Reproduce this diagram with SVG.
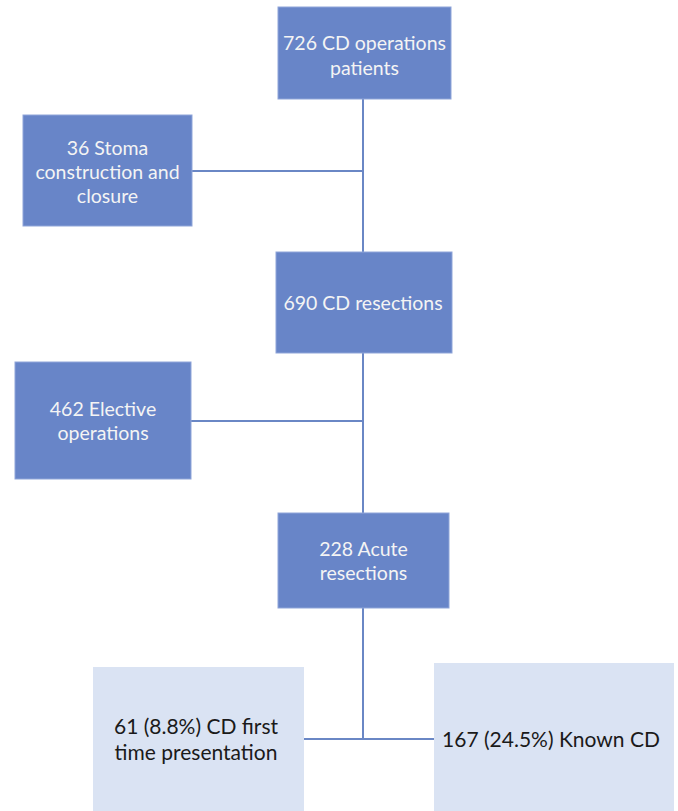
<svg xmlns="http://www.w3.org/2000/svg" width="678" height="811" viewBox="0 0 678 811">
<style>
.dark{fill:#6885C8;stroke:#8FA5D9;stroke-width:1}
.light{fill:#DAE3F3;stroke:none}
.wt{font-family:Lato,"Open Sans","Liberation Sans",sans-serif;font-size:19.5px;fill:#F4F4F4;text-anchor:middle;dominant-baseline:central}
.bt{font-family:Lato,"Open Sans","Liberation Sans",sans-serif;font-size:21px;fill:#1A1A1A;text-anchor:middle;dominant-baseline:central}
.ln{stroke:#6A87C5;stroke-width:2;fill:none}
</style>
<rect width="678" height="811" fill="#FFFFFF"/>
<g id="connectors">
<line class="ln" x1="363" y1="99" x2="363" y2="252"/>
<line class="ln" x1="192" y1="171" x2="363" y2="171"/>
<line class="ln" x1="363" y1="353" x2="363" y2="513"/>
<line class="ln" x1="191" y1="421" x2="363" y2="421"/>
<polyline class="ln" points="363,608 363,739 304,739"/>
<line class="ln" x1="363" y1="739" x2="434" y2="739"/>
</g>
<g id="n1">
<rect class="dark" x="278" y="7" width="173" height="92"/>
<text class="wt" x="364.5" y="42">726 CD operations</text>
<text class="wt" x="364.5" y="67">patients</text>
</g>
<g id="n2">
<rect class="dark" x="23" y="115" width="169" height="111"/>
<text class="wt" x="107.5" y="147">36 Stoma</text>
<text class="wt" x="107.5" y="171">construction and</text>
<text class="wt" x="107.5" y="195">closure</text>
</g>
<g id="n3">
<rect class="dark" x="276" y="252" width="176" height="101"/>
<text class="wt" x="363" y="302">690 CD resections</text>
</g>
<g id="n4">
<rect class="dark" x="15" y="362" width="176" height="117"/>
<text class="wt" x="103" y="408">462 Elective</text>
<text class="wt" x="103" y="432">operations</text>
</g>
<g id="n5">
<rect class="dark" x="278" y="513" width="171" height="95"/>
<text class="wt" x="363.5" y="548">228 Acute</text>
<text class="wt" x="363.5" y="572">resections</text>
</g>
<g id="n6">
<rect class="light" x="93" y="667" width="211" height="144"/>
<text class="bt" x="196" y="725">61 (8.8%) CD first</text>
<text class="bt" x="196" y="751">time presentation</text>
</g>
<g id="n7">
<rect class="light" x="434" y="663" width="240" height="148"/>
<text class="bt" x="551" y="738">167 (24.5%) Known CD</text>
</g>
</svg>
